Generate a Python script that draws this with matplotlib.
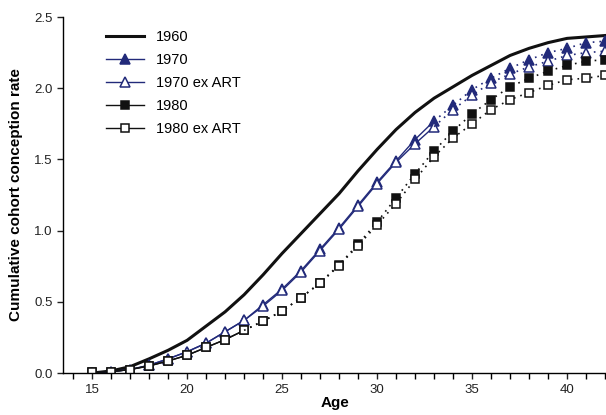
import numpy as np
import matplotlib
matplotlib.use('Agg')
import matplotlib.pyplot as plt
from matplotlib.ticker import MultipleLocator

plt.rcParams['font.family'] = ['Liberation Sans', 'DejaVu Sans']

# Data
ages = list(range(15, 43))

rate_1960 = [0.0, 0.015, 0.045, 0.10, 0.16, 0.23, 0.33, 0.43, 0.55, 0.69, 0.84, 0.98,
             1.12, 1.26, 1.42, 1.57, 1.71, 1.83, 1.93, 2.01, 2.09, 2.16, 2.23, 2.28,
             2.32, 2.35, 2.36, 2.37]

rate_1970 = [0.0, 0.01, 0.025, 0.055, 0.10, 0.15, 0.21, 0.29, 0.37, 0.48, 0.59, 0.72,
             0.87, 1.02, 1.18, 1.34, 1.49, 1.64, 1.77, 1.88, 1.99, 2.07, 2.14, 2.20,
             2.25, 2.28, 2.32, 2.33]

rate_1970_ex = [0.0, 0.01, 0.025, 0.055, 0.10, 0.15, 0.21, 0.29, 0.37, 0.47, 0.58, 0.71,
                0.86, 1.01, 1.17, 1.33, 1.48, 1.61, 1.73, 1.85, 1.95, 2.04, 2.10, 2.15,
                2.19, 2.23, 2.25, 2.26]

rate_1980 = [0.005, 0.01, 0.025, 0.05, 0.085, 0.125, 0.18, 0.235, 0.30, 0.365, 0.435, 0.53,
             0.635, 0.76, 0.905, 1.06, 1.23, 1.40, 1.56, 1.70, 1.82, 1.92, 2.01, 2.07,
             2.12, 2.16, 2.19, 2.20]

rate_1980_ex = [0.005, 0.01, 0.025, 0.05, 0.085, 0.125, 0.18, 0.235, 0.30, 0.365, 0.435, 0.53,
                0.63, 0.755, 0.895, 1.04, 1.19, 1.36, 1.52, 1.65, 1.75, 1.85, 1.92, 1.97,
                2.02, 2.06, 2.07, 2.09]

# last observed age (solid), projected beyond (dotted)
last_obs_1970 = 33
last_obs_1980 = 23

navy = '#222a7a'

fig = plt.figure(figsize=(6.06, 4.15), dpi=100)
ax = fig.add_axes([0.104, 0.101, 0.896, 0.858])

ax.plot(ages, rate_1960, color='#111111', linewidth=2.2, label='1960')


def plot_cohort(vals, last, color, marker, mfc, label, ms):
    k = ages.index(last) + 1
    ax.plot(ages[:k], vals[:k], color=color, linewidth=1, marker=marker,
            markersize=ms, markerfacecolor=mfc, markeredgecolor=color,
            markeredgewidth=1.1, label=label)
    ax.plot(ages[k - 1:], vals[k - 1:], color=color, linewidth=1.2, linestyle=(0, (1, 3)),
            marker=marker, markersize=ms, markerfacecolor=mfc,
            markeredgecolor=color, markeredgewidth=1.1, markevery=list(range(1, len(ages) - k + 1)))


plot_cohort(rate_1970, last_obs_1970, navy, '^', navy, '1970', 6.5)
plot_cohort(rate_1970_ex, last_obs_1970, navy, '^', 'white', '1970 ex ART', 6.5)
plot_cohort(rate_1980, last_obs_1980, '#111111', 's', '#111111', '1980', 5.5)
plot_cohort(rate_1980_ex, last_obs_1980, '#111111', 's', 'white', '1980 ex ART', 5.5)

ax.set_xlim(13.47, 42.05)
ax.set_ylim(0, 2.5)
ax.xaxis.set_major_locator(MultipleLocator(5))
ax.xaxis.set_minor_locator(MultipleLocator(1))
ax.yaxis.set_major_locator(MultipleLocator(0.5))
ax.yaxis.set_major_formatter(plt.FuncFormatter(lambda v, p: f'{v:.1f}'))
ax.tick_params(axis='both', which='major', direction='out', length=4, width=1,
               labelsize=9.5, colors='#222222')
ax.tick_params(axis='x', which='minor', direction='out', length=4, width=1)
for s in ['top', 'right']:
    ax.spines[s].set_visible(False)
for s in ['left', 'bottom']:
    ax.spines[s].set_linewidth(1)

ax.set_xlabel('Age', fontsize=11, fontweight='bold', labelpad=0)
ax.set_ylabel('Cumulative cohort conception rate', fontsize=11, fontweight='bold', labelpad=8)

ax.legend(loc='upper left', bbox_to_anchor=(0.055, 1.0), frameon=False, fontsize=10.5,
          handlelength=2.6, labelspacing=0.62, handletextpad=0.8)

fig.savefig('out.png', dpi=100)
